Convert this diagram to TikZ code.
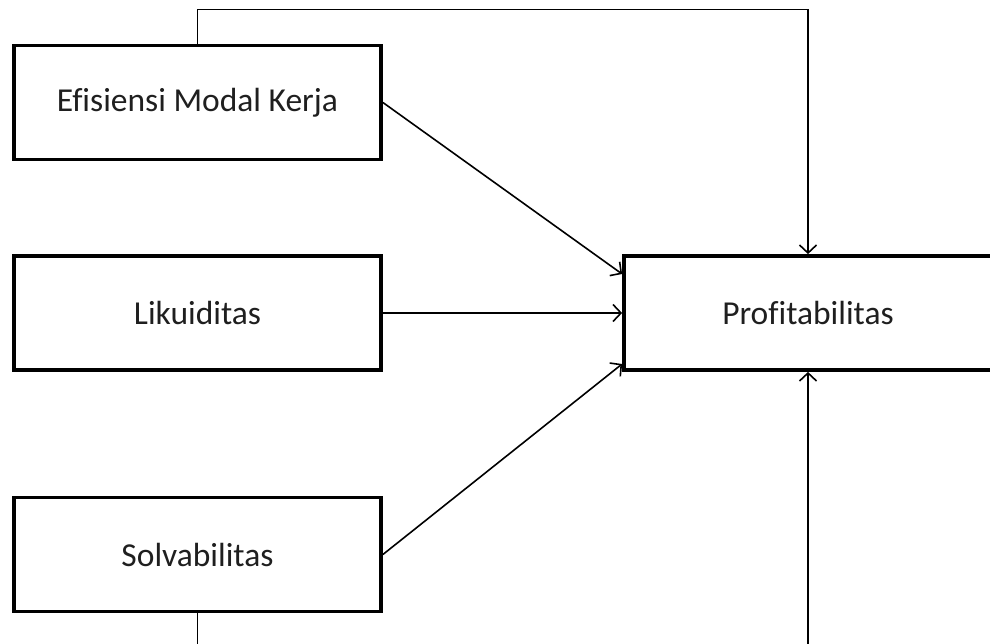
\documentclass[tikz,border=0pt]{standalone}
\usepackage{fontspec}
\setmainfont[Ligatures=NoCommon]{Carlito}
\usetikzlibrary{arrows.meta}
\begin{document}
\begin{tikzpicture}[x=1pt,y=-1pt,
  box/.style={draw, line width=3.8pt, minimum width=367pt, minimum height=114pt,
    inner sep=0pt, font=\fontsize{33.5}{40}\selectfont, text=black!88},
  conn/.style={line width=1.6pt, -{Straight Barb[length=8pt,width=17pt,line width=1.6pt]}}]
\useasboundingbox (0,0) rectangle (990,644);
\node[box] (e) at (197.5,102.5) {Efisiensi Modal Kerja};
\node[box] (l) at (197.5,313) {Likuiditas};
\node[box] (s) at (197.5,554.5) {Solvabilitas};
\node[box, minimum width=368pt] (p) at (808,313) {Profitabilitas};
\draw[conn] (e.north) -- ++(0,-34) -| (p.north);
\draw[conn] (s.south) -- ++(0,60) -| (p.south);
\draw[conn] (e.east) -- ([yshift=39pt]p.west);
\draw[conn] (l.east) -- (p.west);
\draw[conn] (s.east) -- ([yshift=-51pt]p.west);
\end{tikzpicture}
\end{document}
